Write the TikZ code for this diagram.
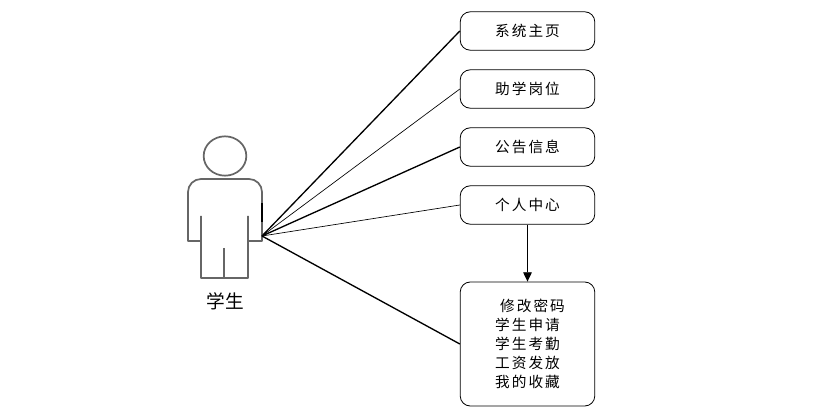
\documentclass[tikz,border=0pt]{standalone}
\usepackage{fontspec}
\setmainfont{Noto Sans CJK SC}
\usetikzlibrary{arrows.meta, shapes.geometric}
\tikzset{
	menubox/.style={draw, rounded corners=7.5pt, line width=0.6pt, minimum width=100.9pt, minimum height=28.8pt, inner sep=0pt, font=\fontsize{11pt}{14.2pt}\selectfont\addfontfeature{LetterSpace=14}},
	actorline/.style={draw=black!60, line width=1.3pt, line join=round},
}
\begin{document}
\begin{tikzpicture}[x=0.75pt, y=-0.75pt]
		\useasboundingbox (0,0) rectangle (835,416);

		\node[menubox] (m1) at (527.5,31) {系统主页};
		\node[menubox] (m2) at (527.5,89) {助学岗位};
		\node[menubox] (m3) at (527.5,147) {公告信息};
		\node[menubox] (m4) at (527.5,205) {个人中心};
		\node[menubox, minimum height=93pt, align=left] (m5) at (527.5,344) {\hspace*{7.5pt}修改密码\\\hspace*{3.75pt}学生申请\\\hspace*{3.75pt}学生考勤\\\hspace*{3.75pt}工资发放\\\hspace*{3.75pt}我的收藏};

		\node[draw=black!60, line width=1.3pt, ellipse, minimum width=32pt, minimum height=29.5pt, inner sep=0pt] (head) at (225,156) {};
		\draw[actorline] (201,216) -- (201,241) -- (188,241) -- (188,192) arc[start angle=180, end angle=90, radius=9.75pt] -- (249,179) arc[start angle=90, end angle=0, radius=9.75pt] -- (262,241) -- (248,241) -- (248,216);
		\draw[actorline] (201,241) -- (201,278) -- (248,278) -- (248,241);
		\draw[actorline] (224,248) -- (224,278);
		\draw[black, line width=1.3pt] (262,203) -- (262,222);
		\node[font=\fontsize{14pt}{14pt}\selectfont] (student) at (225,301) {学生};
		\coordinate (hand) at (262,236);

		\draw[line width=1pt] (hand) -- (m1.west);
		\draw[line width=0.5pt] (hand) -- (m2.west);
		\draw[line width=1pt] (hand) -- (m3.west);
		\draw[line width=0.5pt] (hand) -- (m4.west);
		\draw[line width=1pt] (hand) -- (m5.west);
		\draw[line width=0.7pt, -{Triangle[length=7pt, width=6.5pt]}] (m4.south) -- (m5.north);
	\end{tikzpicture}
\end{document}
